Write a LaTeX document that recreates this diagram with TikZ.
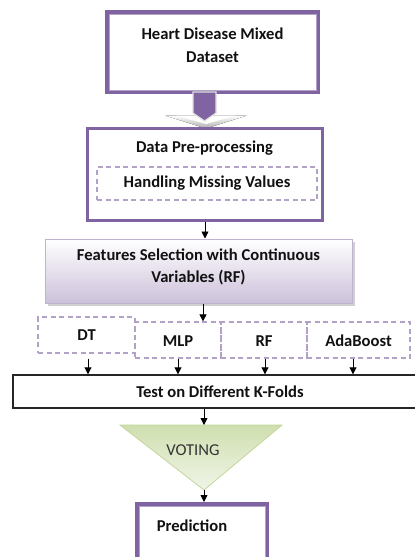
\documentclass[tikz,border=0pt]{standalone}
\usepackage{fontspec}
\setmainfont{Carlito}
\usetikzlibrary{calc,shadows,arrows.meta}

\definecolor{officepurple}{HTML}{8064A2}
\definecolor{lightpurple}{HTML}{B3A2C7}
\definecolor{featfill}{HTML}{CCC1DA}
\definecolor{featedge}{HTML}{BFB3D0}
\definecolor{votetop}{HTML}{CFDFAF}
\definecolor{votebot}{HTML}{F0F5E8}
\definecolor{voteedge}{HTML}{C3D69B}
\definecolor{textdark}{HTML}{111111}

\tikzset{
  lbl/.style={font=\fontsize{16.6}{22.5}\selectfont\bfseries, text=textdark, align=center, inner sep=0pt},
  framebox/.style={draw=officepurple, line width=4pt, fill=white, inner sep=0pt},
  prepbox/.style={draw=officepurple, line width=3pt, fill=white, inner sep=0pt},
  dashbox/.style={draw=lightpurple, line width=1.3pt, dash pattern=on 5pt off 3.5pt, inner sep=0pt},
  blackbox/.style={draw=black!85, line width=1.4pt, fill=white, inner sep=0pt},
  arr/.style={draw=black, line width=0.9pt, -{Triangle[length=7pt,width=7pt]}},
}

\begin{document}
\begin{tikzpicture}[x=1pt,y=-1pt]
\useasboundingbox (0,0) rectangle (415,557);
\fill[white] (0,0) rectangle (415,557);

% dataset box with double frame
\node[framebox, minimum width=211pt, minimum height=80pt] (data) at (212.5,52) {};
\draw[lightpurple, line width=1pt] ($(data.north west)+(4,4)$) rectangle ($(data.south east)+(-4,-4)$);
\node[lbl] (datatext) at (212.5,45) {Heart Disease Mixed\\Dataset};

% block arrow into pre-processing
\fill[top color=white, bottom color=gray!65] (165,115.5) -- (247,115.5) -- (206,128.5) -- cycle;
\fill[white] (176,115.5) -- (236,115.5) -- (206,124) -- cycle;
\draw[fill=officepurple, draw=gray!25, line width=1.2pt]
  (193,92) -- (216,92) -- (216,113) -- (204.5,121) -- (193,113) -- cycle;

% pre-processing box
\node[prepbox, minimum width=235pt, minimum height=92pt] (prep) at (204.5,174) {};
\node[lbl] (preptitle) at (204.5,148) {Data Pre-processing};
\node[dashbox, minimum width=220pt, minimum height=33pt] (missing) at (207,183.5) {};
\node[lbl] at (missing.center) {Handling Missing Values};

% feature selection box
\node[draw=featedge, line width=1pt, top color=white, bottom color=featfill,
      drop shadow={shadow xshift=3pt, shadow yshift=-3pt, fill=gray!60, opacity=0.6},
      minimum width=307pt, minimum height=64pt, inner sep=0pt] (feat) at (198.5,271) {};
\node[lbl] (feattext) at (198.5,267) {Features Selection with Continuous\\Variables (RF)};

\draw[arr] ([xshift=0.5pt]prep.south) -- ([xshift=0.5pt]prep.south |- feat.north);

% classifiers
\node[dashbox, minimum width=97pt, minimum height=36pt] (dt) at (86.5,335) {};
\node[dashbox, minimum width=86pt, minimum height=36pt] (mlp) at (178,340) {};
\node[dashbox, minimum width=86pt, minimum height=36pt] (rf) at (264,340) {};
\node[dashbox, minimum width=103pt, minimum height=36pt] (ada) at (358.5,340) {};
\node[lbl] at (dt.center) {DT};
\node[lbl] at ([yshift=-1pt]mlp.center) {MLP};
\node[lbl] at ([yshift=-1pt]rf.center) {RF};
\node[lbl] at ([yshift=-1pt]ada.center) {AdaBoost};

\draw[arr] ([xshift=4.5pt]feat.south) -- ([xshift=4.5pt]feat.south |- mlp.north);

% test box
\node[blackbox, minimum width=414pt, minimum height=33pt] (test) at (220,391.5) {};
\node[lbl] at (test.center) {Test on Different K-Folds};

\draw[arr] ([xshift=1.5pt]dt.south |- mlp.south) -- ([xshift=1.5pt]dt.south |- test.north);
\draw[arr] (mlp.south) -- (mlp.south |- test.north);
\draw[arr] ([xshift=1pt]rf.south) -- ([xshift=1pt]rf.south |- test.north);
\draw[arr] ([xshift=-5.5pt]ada.south) -- ([xshift=-5.5pt]ada.south |- test.north);

% voting triangle
\coordinate (vl) at (120,425);
\coordinate (vr) at (282,425);
\coordinate (vtop) at (204,425);
\coordinate (vapex) at (204,490);
\draw[draw=voteedge, line width=0.8pt, top color=votetop, bottom color=votebot] (vl) -- (vr) -- (vapex) -- cycle;
\node[font=\fontsize{16.6}{22}\selectfont, text=black!80, inner sep=0pt] (voting) at (193,450) {VOTING};

\draw[arr] (test.south -| vtop) -- (vtop);

% prediction box
\node[framebox, minimum width=130pt, minimum height=68pt] (pred) at (202,538) {};
\draw[lightpurple, line width=1pt] ($(pred.north west)+(4,4)$) rectangle ($(pred.south east)+(-4,-4)$);
\node[lbl] (predtext) at (192,526) {Prediction};

\draw[arr] (vapex) -- (vapex |- pred.north);
\end{tikzpicture}
\end{document}
